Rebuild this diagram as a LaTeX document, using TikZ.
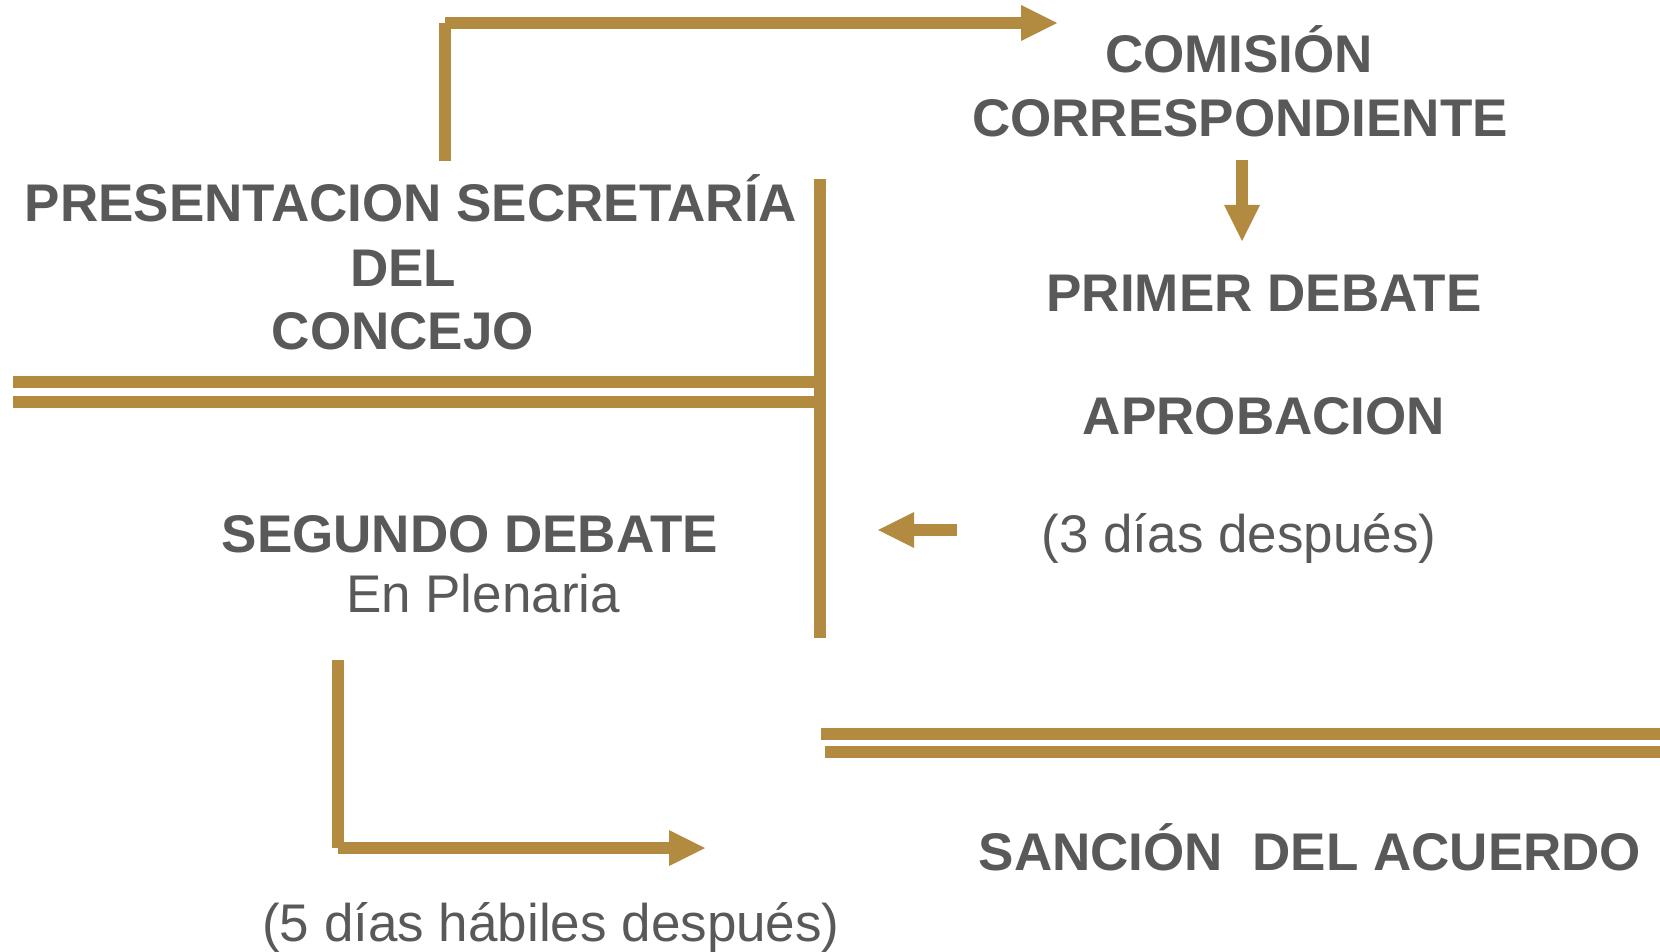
\documentclass[tikz,border=0pt]{standalone}
\usepackage{fontspec}
\setmainfont{Liberation Sans}
\usetikzlibrary{arrows.meta}
\definecolor{gold}{RGB}{179,139,64}
\definecolor{txt}{RGB}{89,89,89}
\tikzset{
  bar/.style={draw=gold, line width=12pt},
  arr/.style={bar, -{Triangle[length=36pt,width=36pt,line width=0pt]}},
  hd/.style={font=\fontsize{53}{64}\selectfont\bfseries, text=txt, inner sep=0pt, anchor=base},
  sub/.style={font=\fontsize{53}{64}\selectfont, text=txt, inner sep=0pt, anchor=base},
}
\begin{document}
\begin{tikzpicture}[x=1pt,y=-1pt]
\useasboundingbox (0,0) rectangle (1660,952);
% texts
\node[hd] (pres1) at (411,222) {PRESENTACION SECRETARÍA};
\node[hd] (pres2) at (403,286) {DEL};
\node[hd] (pres3) at (403,349) {CONCEJO};
\node[hd] (com1) at (1239,73) {COMISIÓN};
\node[hd] (com2) at (1240,137) {CORRESPONDIENTE};
\node[hd] (prim) at (1264,311) {PRIMER DEBATE};
\node[hd] (apro) at (1264,434) {APROBACION};
\node[sub] (tres) at (1239,552) {(3 días después)};
\node[hd] (seg1) at (470,552) {SEGUNDO DEBATE};
\node[sub] (seg2) at (483,612) {En Plenaria};
\node[sub] (cinco) at (551,941) {(5 días hábiles después)};
\node[hd] (sanc) at (1310,870) {SANCIÓN\ \ DEL ACUERDO};
% coordinates
\coordinate (u0) at (445,161);
\coordinate (u1) at (445,23);
\coordinate (u2) at (1057,23);
\coordinate (d0) at (1242,160);
\coordinate (d1) at (1242,241);
\coordinate (l0) at (957,530);
\coordinate (l1) at (878,530);
\coordinate (b0) at (338,660);
\coordinate (b1) at (338,848);
\coordinate (b2) at (705,848);
\coordinate (v0) at (820,179);
\coordinate (v1) at (820,638);
\coordinate (h1a) at (13,381.5);
\coordinate (h1b) at (815,381.5);
\coordinate (h2a) at (13,401.5);
\coordinate (h2b) at (815,401.5);
\coordinate (h3a) at (821,734);
\coordinate (h3b) at (1660,734);
\coordinate (h4a) at (825,752);
\coordinate (h4b) at (1660,752);
% connectors
\draw[bar] (u0) -- (u1);
\draw[arr] (u1) -- (u2);
\draw[arr] (d0) -- (d1);
\draw[arr] (l0) -- (l1);
\draw[bar] (b0) -- (b1);
\draw[arr] (b1) -- (b2);
\draw[bar] (v0) -- (v1);
\draw[bar] (h1a) -- (h1b);
\draw[bar] (h2a) -- (h2b);
\draw[bar] (h3a) -- (h3b);
\draw[bar] (h4a) -- (h4b);
\end{tikzpicture}
\end{document}
